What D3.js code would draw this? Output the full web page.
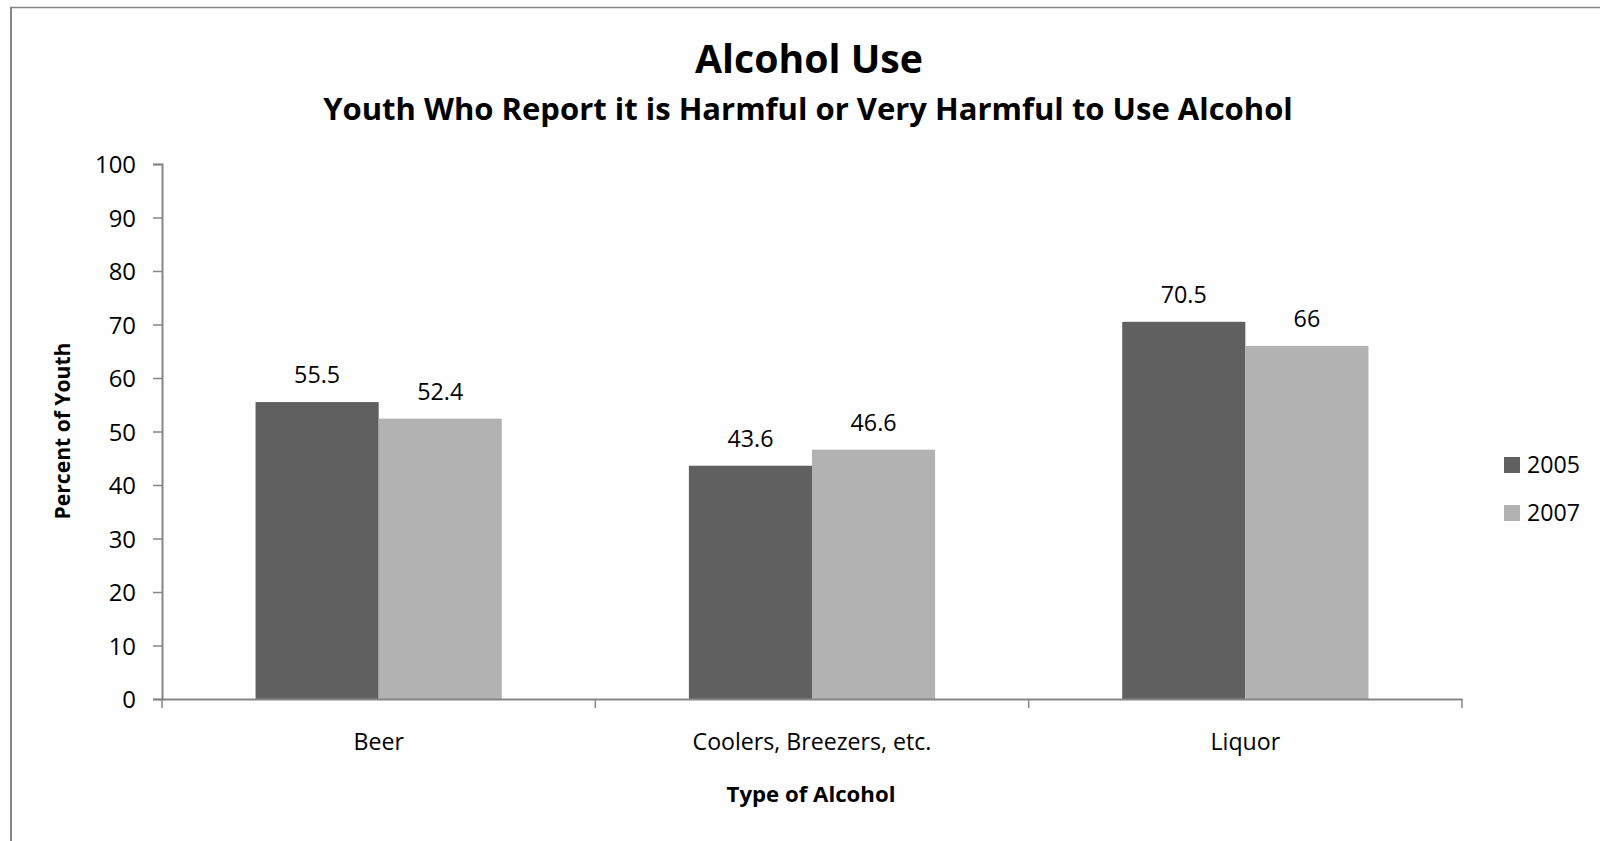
<!DOCTYPE html>
<html>
<head>
<meta charset="utf-8">
<script src="https://cdn.jsdelivr.net/npm/d3@7"></script>
<style>
  html, body { margin: 0; padding: 0; background: #fefefe; overflow: hidden; }
  svg { display: block; }
  text { font-family: "Open Sans", "DejaVu Sans", sans-serif; fill: #000; }
</style>
</head>
<body>
<svg id="chart" width="1600" height="841"></svg>
<script>
// ---- data ----
const categories = ["Beer", "Coolers, Breezers, etc.", "Liquor"];
const seriesNames = ["2005", "2007"];
const values2005 = [55.5, 43.6, 70.5];
const values2007 = [52.4, 46.6, 66];
const valueLabels2005 = ["55.5", "43.6", "70.5"];
const valueLabels2007 = ["52.4", "46.6", "66"];
const yTicks = [0, 10, 20, 30, 40, 50, 60, 70, 80, 90, 100];
const seriesColors = ["#606060", "#b2b2b2"];

const svg = d3.select("#chart");

// fit a text element to a target width by adjusting font size
function fit(sel, target) {
  sel.each(function () {
    const el = this;
    const fs = parseFloat(el.getAttribute("font-size"));
    const w = el.getComputedTextLength();
    if (w > 0) el.setAttribute("font-size", (fs * target / w).toFixed(2));
  });
  return sel;
}

// outer chart border (left and top edges visible)
svg.append("line").attr("x1", 11).attr("x2", 11).attr("y1", 7).attr("y2", 841)
  .attr("stroke", "#878787").attr("stroke-width", 2);
svg.append("line").attr("x1", 10).attr("x2", 1600).attr("y1", 7.5).attr("y2", 7.5)
  .attr("stroke", "#878787").attr("stroke-width", 1.5);

const plot = { left: 162, right: 1462, top: 164, bottom: 699 };

const x = d3.scaleBand().domain(categories).range([plot.left, plot.right]).paddingInner(0).paddingOuter(0);
const x1 = d3.scaleBand().domain(seriesNames).range([0, x.bandwidth()]).paddingInner(0).paddingOuter(0.76);
const y = d3.scaleLinear().domain([0, 100]).range([plot.bottom, plot.top]);

const data = categories.map((c, i) => ({
  cat: c,
  vals: [
    { s: seriesNames[0], v: values2005[i], lab: valueLabels2005[i], col: seriesColors[0] },
    { s: seriesNames[1], v: values2007[i], lab: valueLabels2007[i], col: seriesColors[1] }
  ]
}));

// bars
const groups = svg.append("g").selectAll("g").data(data).join("g")
  .attr("transform", d => `translate(${x(d.cat)},0)`);
groups.selectAll("rect").data(d => d.vals).join("rect")
  .attr("x", d => x1(d.s))
  .attr("y", d => y(d.v))
  .attr("width", x1.bandwidth())
  .attr("height", d => y(0) - y(d.v))
  .attr("fill", d => d.col);

// value labels
groups.selectAll("text.val").data(d => d.vals).join("text")
  .attr("class", "val")
  .attr("x", d => x1(d.s) + x1.bandwidth() / 2)
  .attr("y", d => y(d.v) - 19)
  .attr("text-anchor", "middle")
  .attr("font-size", 20)
  .text(d => d.lab);

// y axis
const yAxis = d3.axisLeft(y).tickValues(yTicks).tickSize(9).tickPadding(17).tickFormat(d3.format("d"));
const gy = svg.append("g").attr("transform", `translate(${plot.left},0)`).call(yAxis);
gy.select(".domain").attr("stroke", "#868686").attr("stroke-width", 2);
gy.selectAll(".tick line").attr("stroke", "#868686").attr("stroke-width", 1.5);
gy.selectAll(".tick text").attr("font-size", 20).attr("font-family", "Open Sans").attr("fill", "#000").attr("dy", "0.36em");

// x axis
const xAxis = d3.axisBottom(x).tickSize(0).tickPadding(38);
const gx = svg.append("g").attr("transform", `translate(0,${plot.bottom})`).call(xAxis);
gx.select(".domain").attr("stroke", "#868686").attr("stroke-width", 2);
gx.selectAll(".tick text").attr("font-size", 20).attr("font-family", "Open Sans").attr("fill", "#000").attr("dy", "0");
// category boundary ticks
const boundaries = categories.map(c => x(c)).concat([x(categories[categories.length - 1]) + x.bandwidth()]);
svg.append("g").selectAll("line").data(boundaries).join("line")
  .attr("x1", d => d).attr("x2", d => d)
  .attr("y1", plot.bottom).attr("y2", plot.bottom + 9)
  .attr("stroke", "#868686").attr("stroke-width", 1.5);

// fit category labels
const coolerText = gx.selectAll(".tick text").filter(d => d === categories[1]);
fit(coolerText, 239);
const catFs = coolerText.attr("font-size");
gx.selectAll(".tick text").attr("font-size", catFs).attr("y", 51);

// fit tick labels
const t100 = gy.selectAll(".tick text").filter(d => d === 100);
fit(t100, 41);
gy.selectAll(".tick text").attr("font-size", t100.attr("font-size"));

// fit value labels
const v1 = groups.selectAll("text.val").filter(d => d.lab === "55.5");
fit(v1, 46);
groups.selectAll("text.val").attr("font-size", v1.attr("font-size"));

// titles
const title = svg.append("text")
  .attr("x", 809).attr("y", 73)
  .attr("text-anchor", "middle")
  .attr("font-size", 44).attr("font-weight", "bold")
  .text("Alcohol Use");
fit(title, 228);

const sub = svg.append("text")
  .attr("x", 808).attr("y", 120)
  .attr("text-anchor", "middle")
  .attr("font-size", 30).attr("font-weight", "bold")
  .text("Youth Who Report it is Harmful or Very Harmful to Use Alcohol");
fit(sub, 970);

// axis titles
const yTitle = svg.append("text")
  .attr("transform", "translate(70,431) rotate(-90)")
  .attr("text-anchor", "middle")
  .attr("font-size", 18).attr("font-weight", "bold")
  .text("Percent of Youth");
fit(yTitle, 177);

const xTitle = svg.append("text")
  .attr("x", 811).attr("y", 802)
  .attr("text-anchor", "middle")
  .attr("font-size", 20).attr("font-weight", "bold")
  .text("Type of Alcohol");
fit(xTitle, 169);

// legend
const legend = svg.append("g").attr("transform", "translate(1504,457)");
const li = legend.selectAll("g").data(seriesNames).join("g")
  .attr("transform", (d, i) => `translate(0,${i * 48})`);
li.append("rect").attr("width", 16).attr("height", 16).attr("fill", (d, i) => seriesColors[i]);
const lt = li.append("text").attr("x", 23).attr("y", 16).attr("font-size", 20).text(d => d);
fit(lt.filter((d, i) => i === 0), 53);
lt.attr("font-size", lt.filter((d, i) => i === 0).attr("font-size"));
</script>
</body>
</html>
